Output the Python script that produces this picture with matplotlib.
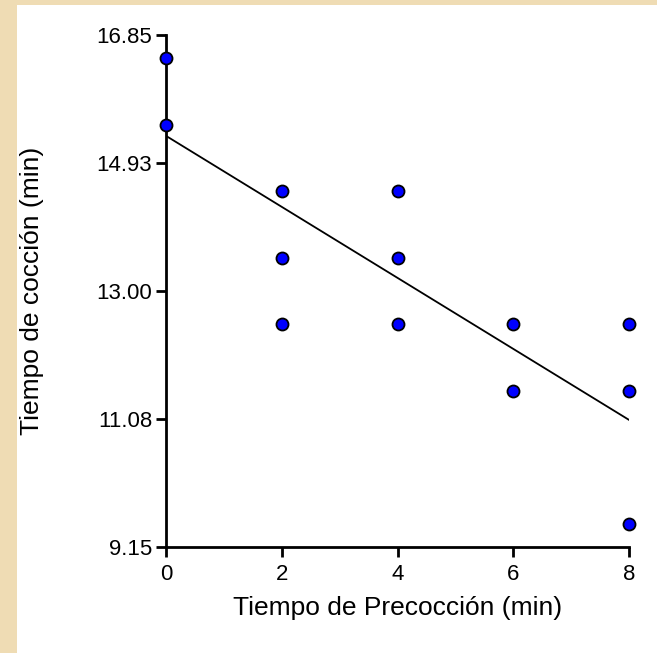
import numpy as np
import matplotlib.pyplot as plt
from matplotlib.patches import Rectangle

plt.rcParams['font.family'] = ['Liberation Sans', 'DejaVu Sans']

# data
precoccion = [0, 0, 2, 2, 2, 4, 4, 4, 6, 6, 8, 8, 8]
coccion = [16.5, 15.5, 14.5, 13.5, 12.5, 14.5, 13.5, 12.5, 12.5, 11.5, 12.5, 11.5, 9.5]
x_ticks = [0, 2, 4, 6, 8]
y_ticks = [9.15, 11.08, 13.00, 14.93, 16.85]

fig = plt.figure(figsize=(6.57, 6.53), dpi=100)
fig.patch.set_facecolor('#efdcb4')
fig.patches.append(Rectangle((17 / 657, 0), 1, 1 - 5 / 653, transform=fig.transFigure,
                             facecolor='white', edgecolor='none', zorder=-10))

ax = fig.add_axes([166 / 657, 1 - 547 / 653, 463 / 657, 512 / 653])
ax.set_facecolor('none')

# least squares line
slope, intercept = np.polyfit(precoccion, coccion, 1)
xs = np.array([0, 8])
ax.plot(xs, intercept + slope * xs, color='black', lw=1.3, zorder=2)

ax.scatter(precoccion, coccion, s=75, color='#0000ff', edgecolor='black',
           linewidth=1.3, zorder=3, clip_on=False)

ax.set_xlim(0, 8)
ax.set_ylim(9.15, 16.85)
ax.set_xticks(x_ticks)
ax.set_yticks(y_ticks)
ax.set_yticklabels([f'{v:.2f}' for v in y_ticks])
ax.spines['top'].set_visible(False)
ax.spines['right'].set_visible(False)
ax.spines['left'].set_linewidth(2)
ax.spines['bottom'].set_linewidth(2)
ax.tick_params(direction='out', length=7, width=2, labelsize=16, pad=3)
ax.tick_params(axis='x', pad=5)

ax.set_xlabel('Tiempo de Precocción (min)', fontsize=19, va='center')
ax.set_ylabel('Tiempo de cocción (min)', fontsize=19, va='center')
ax.xaxis.set_label_coords(0.5, -0.119)
ax.yaxis.set_label_coords(-0.29, 0.5)

plt.savefig('out.png', dpi=100)
